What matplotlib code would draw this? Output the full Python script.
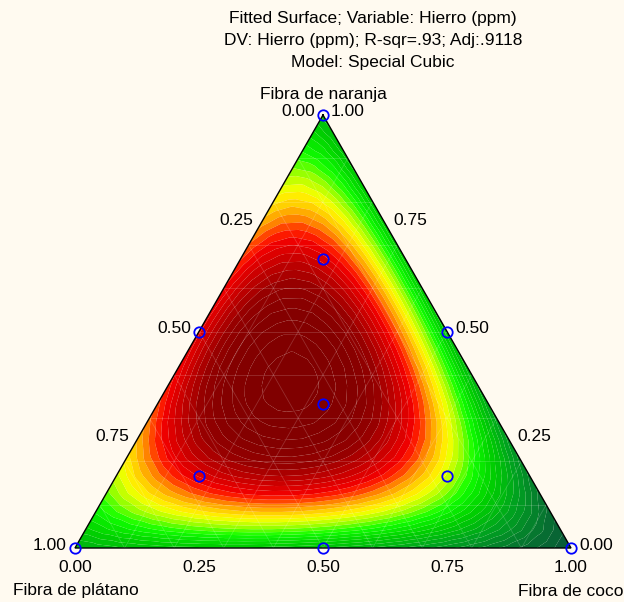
import numpy as np
import matplotlib
matplotlib.use("Agg")
import matplotlib.pyplot as plt
import matplotlib.tri as mtri
from matplotlib.colors import LinearSegmentedColormap

plt.rcParams['font.family'] = ['Liberation Sans', 'DejaVu Sans']

# ---- data ----
components = ["Fibra de naranja", "Fibra de plátano", "Fibra de coco"]
# special cubic model coefficients (relative units): b1, b2, b3, b12, b13, b23, b123
linear_coefs = [0.24, 0.22, 0.0]
binary_coefs = [1.75, 0.55, 0.55]   # naranja*platano, naranja*coco, platano*coco
ternary_coef = 12.0
# design points (naranja, platano, coco)
design_a = [1, 0, 0, 0.5, 0.5, 0, 1/3, 2/3, 1/6, 1/6]
design_b = [0, 1, 0, 0.5, 0, 0.5, 1/3, 1/6, 2/3, 1/6]
design_c = [0, 0, 1, 0, 0.5, 0.5, 1/3, 1/6, 1/6, 2/3]
tick_values = [0.0, 0.25, 0.5, 0.75, 1.0]
tick_labels = ["0.00", "0.25", "0.50", "0.75", "1.00"]
title_lines = ["Fitted Surface; Variable: Hierro (ppm)",
               "DV: Hierro (ppm); R-sqr=.93; Adj:.9118",
               "Model: Special Cubic"]
# colour scale anchors (response value, colour)
color_values = [0.00, 0.08, 0.18, 0.29, 0.38, 0.44, 0.50, 0.55, 0.59, 0.63, 0.66, 0.72, 0.79, 0.86]
color_list = ["#0A5838", "#067530", "#00A020", "#00D000", "#10FF00", "#A0FF00", "#FFFF00",
              "#FFC000", "#FF8000", "#FF2000", "#F00000", "#C80000", "#960000", "#840000"]

# ---- geometry (figure pixel space) ----
TOP = np.array([323.0, 115.0])
LEFT = np.array([75.0, 548.0])
RIGHT = np.array([571.0, 548.0])

def to_xy(a, b, c):
    a = np.asarray(a, float); b = np.asarray(b, float); c = np.asarray(c, float)
    x = a * TOP[0] + b * LEFT[0] + c * RIGHT[0]
    y = a * TOP[1] + b * LEFT[1] + c * RIGHT[1]
    return x, y

def model(a, b, c):
    return (linear_coefs[0] * a + linear_coefs[1] * b + linear_coefs[2] * c
            + binary_coefs[0] * a * b + binary_coefs[1] * a * c + binary_coefs[2] * b * c
            + ternary_coef * a * b * c)

fig = plt.figure(figsize=(6.24, 6.02), dpi=100)
bg = "#FFFAF0"
fig.patch.set_facecolor(bg)
ax = fig.add_axes([0, 0, 1, 1])
ax.set_facecolor(bg)
ax.set_xlim(0, 624)
ax.set_ylim(602, 0)
ax.axis("off")

# mesh
n = 24
A, B, C = [], [], []
for i in range(n + 1):
    for j in range(n + 1 - i):
        A.append(i / n); B.append(j / n); C.append((n - i - j) / n)
A = np.array(A); B = np.array(B); C = np.clip(np.array(C), 0, 1)
X, Y = to_xy(A, B, C)
Z = model(A, B, C)
tri = mtri.Triangulation(X, Y)

zmax = max(Z.max(), color_values[-1]) + 1e-6
stops = [(v / zmax, col) for v, col in zip(color_values, color_list)] + [(1.0, "#800000")]
cmap = LinearSegmentedColormap.from_list("stat", stops)
levels = np.arange(0, zmax + 0.025, 0.025)
ax.tricontourf(tri, Z, levels=levels, cmap=cmap, vmin=0, vmax=zmax, antialiased=True)

# faint mesh lines
for t in np.arange(0.1, 1.0, 0.1):
    for (p, q) in [((t, 1 - t, 0), (t, 0, 1 - t)),
                   ((1 - t, t, 0), (0, t, 1 - t)),
                   ((1 - t, 0, t), (0, 1 - t, t))]:
        xs, ys = to_xy([p[0], q[0]], [p[1], q[1]], [p[2], q[2]])
        ax.plot(xs, ys, color="white", alpha=0.18, lw=0.6)

# outline
ox, oy = to_xy([1, 0, 0, 1], [0, 1, 0, 0], [0, 0, 1, 0])
ax.plot(ox, oy, color="black", lw=1.0, solid_joinstyle="miter")

# design points
px, py = to_xy(design_a, design_b, design_c)
ax.plot(px, py, "o", mfc="none", mec="#0000FF", ms=7.5, mew=1.3, clip_on=False)

fs = 12.5
# titles
for k, line in enumerate(title_lines):
    ax.text(373, 18 + k * 22.5, line, ha="center", va="center", fontsize=fs)

# ticks: left edge (platano), right edge (naranja), bottom (coco)
for v, lab in zip(tick_values, tick_labels):
    x, y = to_xy(1 - v, v, 0)
    ax.text(x - 8, y - 3, lab, ha="right", va="center", fontsize=fs)
    x, y = to_xy(v, 0, 1 - v)
    ax.text(x + 8, y - 3, lab, ha="left", va="center", fontsize=fs)
    x, y = to_xy(0, 1 - v, v)
    ax.text(x, y + 20, lab, ha="center", va="center", fontsize=fs)

ax.text(TOP[0], 95, components[0], ha="center", va="center", fontsize=fs)
ax.text(13, 591, components[1], ha="left", va="center", fontsize=fs)
ax.text(623, 591, components[2], ha="right", va="center", fontsize=fs)

fig.savefig("out.png", dpi=100, facecolor=bg)
